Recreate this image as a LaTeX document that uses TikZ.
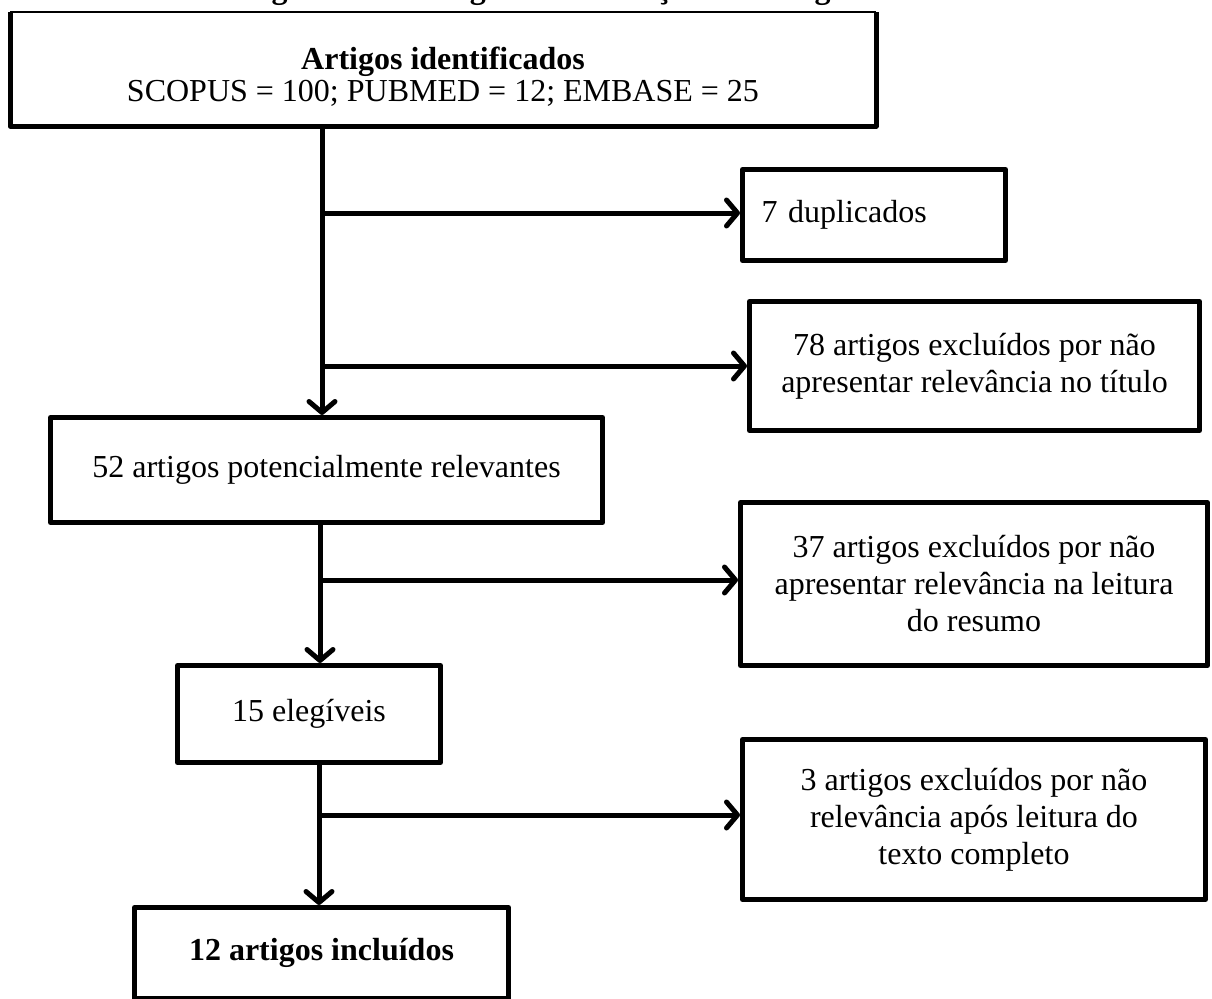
\documentclass[tikz,border=0pt]{standalone}
\usepackage{fontspec}
\setmainfont{Liberation Serif}
\usetikzlibrary{arrows.meta}
\begin{document}
\begin{tikzpicture}[x=1pt,y=-1pt,
  box/.style={draw, line width=5pt, line join=round, rectangle, inner sep=0pt, align=center,
    font=\fontsize{32}{37}\selectfont},
  conn/.style={line width=5pt, line join=round},
  arr/.style={conn, -{Straight Barb[length=11pt,width=26pt,round]}}]
\useasboundingbox (0,0) rectangle (1212,998);
\clip (0,0) rectangle (1212,998);
% caption (cut off at the top, as in the reference)
\node[anchor=base west, inner sep=0pt, font=\fontsize{32}{37}\selectfont\bfseries] (cap) at (243,-1) {Figura 1 – Fluxograma de seleção dos artigos};
% boxes
\node[box, draw=none, minimum width=861pt, minimum height=109pt] (T) at (443,69) {};
\draw[line width=5pt, line join=round] (T.north west) -- (T.south west) -- (T.south east) -- (T.north east);
\draw[line width=2pt] (T.north west) -- (T.north east);
\node[align=center, inner sep=0pt, font=\fontsize{32}{32}\selectfont] (Ttxt) at (443,77)
  {\textbf{Artigos identificados}\\ SCOPUS = 100; PUBMED = 12; EMBASE = 25};
\node[box, minimum width=263pt, minimum height=91pt, text width=225pt, align=left] (D) at (874,215) {7 duplicados};
\node[box, minimum width=450pt, minimum height=129pt] (E1) at (974.5,366)
  {78 artigos excluídos por não\\apresentar relevância no título};
\node[box, minimum width=552pt, minimum height=105pt] (P) at (326.5,470)
  {52 artigos potencialmente relevantes};
\node[box, minimum width=467pt, minimum height=163pt] (E2) at (974,584)
  {37 artigos excluídos por não\\apresentar relevância na leitura\\do resumo};
\node[box, minimum width=263pt, minimum height=97pt] (F) at (309,714) {15 elegíveis};
\node[box, minimum width=463pt, minimum height=160pt] (E3) at (974,819.5)
  {3 artigos excluídos por não\\relevância após leitura do\\texto completo};
\node[box, minimum width=374pt, minimum height=91pt] (I) at (321.5,953)
  {\textbf{12 artigos incluídos}};
% trunk coordinates
\coordinate (t1) at (322,213);
\coordinate (t1b) at (322,366);
\coordinate (t2) at (320,580);
\coordinate (t3) at (319,815);
% connectors
\draw[arr] (T.south -| t1) -- (P.north -| t1);
\draw[arr] (t1) -- (D.west |- t1);
\draw[arr] (t1b) -- (E1.west |- t1b);
\draw[arr] (P.south -| t2) -- (F.north -| t2);
\draw[arr] (t2) -- (E2.west |- t2);
\draw[arr] (F.south -| t3) -- (I.north -| t3);
\draw[arr] (t3) -- (E3.west |- t3);
\end{tikzpicture}
\end{document}
